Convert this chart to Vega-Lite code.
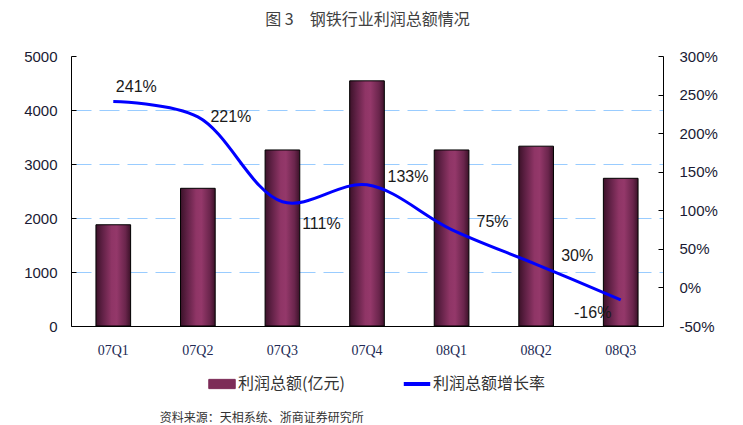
{
  "$schema": "https://vega.github.io/schema/vega-lite/v6.json",
  "width": 592,
  "height": 270,
  "autosize": "none",
  "padding": {"left": 71, "top": 56, "right": 80, "bottom": 99},
  "background": "white",
  "title": {
    "text": "资料来源：天相系统、浙商证券研究所",
    "orient": "bottom",
    "anchor": "start",
    "dx": 136,
    "offset": 21,
    "font": "Noto Sans CJK SC",
    "fontSize": 12,
    "fontWeight": "normal",
    "color": "#333333"
  },
  "data": {
    "values": [
      {"q": "07Q1", "profit": 1875, "growth": 241},
      {"q": "07Q2", "profit": 2550, "growth": 221},
      {"q": "07Q3", "profit": 3260, "growth": 111},
      {"q": "07Q4", "profit": 4540, "growth": 133},
      {"q": "08Q1", "profit": 3260, "growth": 75},
      {"q": "08Q2", "profit": 3330, "growth": 30},
      {"q": "08Q3", "profit": 2735, "growth": -16}
    ]
  },
  "transform": [{"calculate": "datum.growth + '%'", "as": "glabel"}],
  "resolve": {"scale": {"y": "independent"}, "axis": {"x": "independent", "y": "independent"}},
  "layer": [
    {
      "mark": {
        "type": "bar",
        "stroke": "#000000",
        "strokeWidth": 1,
        "fill": {
          "gradient": "linear",
          "x1": 0, "x2": 1, "y1": 0, "y2": 0,
          "stops": [
            {"offset": 0, "color": "#3c1229"},
            {"offset": 0.18, "color": "#5e2044"},
            {"offset": 0.45, "color": "#8f3566"},
            {"offset": 0.6, "color": "#94386a"},
            {"offset": 0.85, "color": "#6a254c"},
            {"offset": 1, "color": "#3c1229"}
          ]
        }
      },
      "encoding": {
        "x": {
          "field": "q", "type": "nominal", "sort": null,
          "scale": {"paddingInner": 0.59, "paddingOuter": 0.295},
          "axis": {
            "orient": "bottom", "title": null, "labelAngle": 0, "ticks": false,
            "labelFont": "Liberation Serif", "labelFontSize": 14, "labelColor": "#222a55",
            "labelPadding": 17, "domainColor": "#000000", "domainWidth": 1
          }
        },
        "y": {
          "field": "profit", "type": "quantitative",
          "scale": {"domain": [0, 5000], "nice": false},
          "axis": {
            "orient": "left", "title": null, "format": "d",
            "values": [0, 1000, 2000, 3000, 4000, 5000],
            "labelFont": "Liberation Sans", "labelFontSize": 15, "labelColor": "#1a1a33",
            "labelPadding": 19, "tickSize": -5, "tickColor": "#000000",
            "domainColor": "#000000", "domainWidth": 1,
            "grid": true,
            "gridColor": {"condition": {"test": "datum.value > 0 && datum.value < 5000", "value": "#99ccff"}, "value": "transparent"},
            "gridDash": [20, 8], "gridWidth": 1
          }
        }
      }
    },
    {
      "mark": {"type": "line", "strokeWidth": 3, "interpolate": "catmull-rom"},
      "encoding": {
        "x": {
          "field": "q", "type": "nominal", "sort": null,
          "axis": {
            "orient": "top", "title": "图 3　钢铁行业利润总额情况",
            "labels": false, "ticks": false, "domain": false, "grid": false,
            "titleFont": "Noto Sans CJK SC", "titleFontSize": 16, "titleFontWeight": "normal",
            "titleColor": "#404040", "titlePadding": 29
          }
        },
        "y": {
          "field": "growth", "type": "quantitative",
          "scale": {"domain": [-50, 300], "nice": false},
          "axis": {
            "orient": "right", "title": null,
            "values": [-50, 0, 50, 100, 150, 200, 250, 300],
            "labelExpr": "datum.value + '%'",
            "labelFont": "Liberation Sans", "labelFontSize": 15, "labelColor": "#1a1a33",
            "labelPadding": 21, "tickSize": -5, "tickColor": "#000000",
            "domainColor": "#000000", "domainWidth": 1, "grid": false
          }
        },
        "color": {
          "datum": "利润总额增长率",
          "scale": {"domain": ["利润总额(亿元)", "利润总额增长率"], "range": ["#7d2c58", "#0000ff"]},
          "legend": {
            "title": null,
            "orient": "none",
            "legendX": 143,
            "legendY": 320,
            "direction": "horizontal",
            "labelFont": "Noto Sans CJK SC",
            "labelFontSize": 16,
            "labelColor": "#333333",
            "labelOffset": 8,
            "columnPadding": 50,
            "symbolSize": 700,
            "encode": {
              "symbols": {
                "update": {
                  "shape": {"signal": "datum.label === '利润总额(亿元)' ? 'M-1,-0.35H1V0.35H-1Z' : 'M-1,0H1'"},
                  "fill": {"signal": "datum.label === '利润总额(亿元)' ? '#7d2c58' : 'transparent'"},
                  "stroke": {"signal": "datum.label === '利润总额(亿元)' ? '#000000' : '#0000ff'"},
                  "strokeWidth": {"signal": "datum.label === '利润总额(亿元)' ? 1 : 4"},
                  "opacity": {"value": 1}
                }
              }
            }
          }
        }
      }
    },
    {
      "transform": [{"filter": "datum.q === '07Q1'"}],
      "mark": {"type": "text", "font": "Liberation Sans", "fontSize": 16, "color": "#1a1a1a", "dx": 23, "dy": -15},
      "encoding": {
        "x": {"field": "q", "type": "nominal", "sort": null, "axis": null},
        "y": {"field": "growth", "type": "quantitative", "scale": {"domain": [-50, 300], "nice": false}, "axis": null},
        "text": {"field": "glabel"}
      }
    },
    {
      "transform": [{"filter": "datum.q === '07Q2'"}],
      "mark": {"type": "text", "font": "Liberation Sans", "fontSize": 16, "color": "#1a1a1a", "dx": 33, "dy": 0},
      "encoding": {
        "x": {"field": "q", "type": "nominal", "sort": null, "axis": null},
        "y": {"field": "growth", "type": "quantitative", "scale": {"domain": [-50, 300], "nice": false}, "axis": null},
        "text": {"field": "glabel"}
      }
    },
    {
      "transform": [{"filter": "datum.q === '07Q3'"}],
      "mark": {"type": "text", "font": "Liberation Sans", "fontSize": 16, "color": "#1a1a1a", "dx": 39, "dy": 22},
      "encoding": {
        "x": {"field": "q", "type": "nominal", "sort": null, "axis": null},
        "y": {"field": "growth", "type": "quantitative", "scale": {"domain": [-50, 300], "nice": false}, "axis": null},
        "text": {"field": "glabel"}
      }
    },
    {
      "transform": [{"filter": "datum.q === '07Q4' || datum.q === '08Q1' || datum.q === '08Q2'"}],
      "mark": {"type": "text", "font": "Liberation Sans", "fontSize": 16, "color": "#1a1a1a", "dx": 41, "dy": -8},
      "encoding": {
        "x": {"field": "q", "type": "nominal", "sort": null, "axis": null},
        "y": {"field": "growth", "type": "quantitative", "scale": {"domain": [-50, 300], "nice": false}, "axis": null},
        "text": {"field": "glabel"}
      }
    },
    {
      "transform": [{"filter": "datum.q === '08Q3'"}],
      "mark": {"type": "text", "font": "Liberation Sans", "fontSize": 16, "color": "#1a1a1a", "dx": -28, "dy": 13},
      "encoding": {
        "x": {"field": "q", "type": "nominal", "sort": null, "axis": null},
        "y": {"field": "growth", "type": "quantitative", "scale": {"domain": [-50, 300], "nice": false}, "axis": null},
        "text": {"field": "glabel"}
      }
    }
  ],
  "config": {
    "view": {"stroke": null}
  }
}
